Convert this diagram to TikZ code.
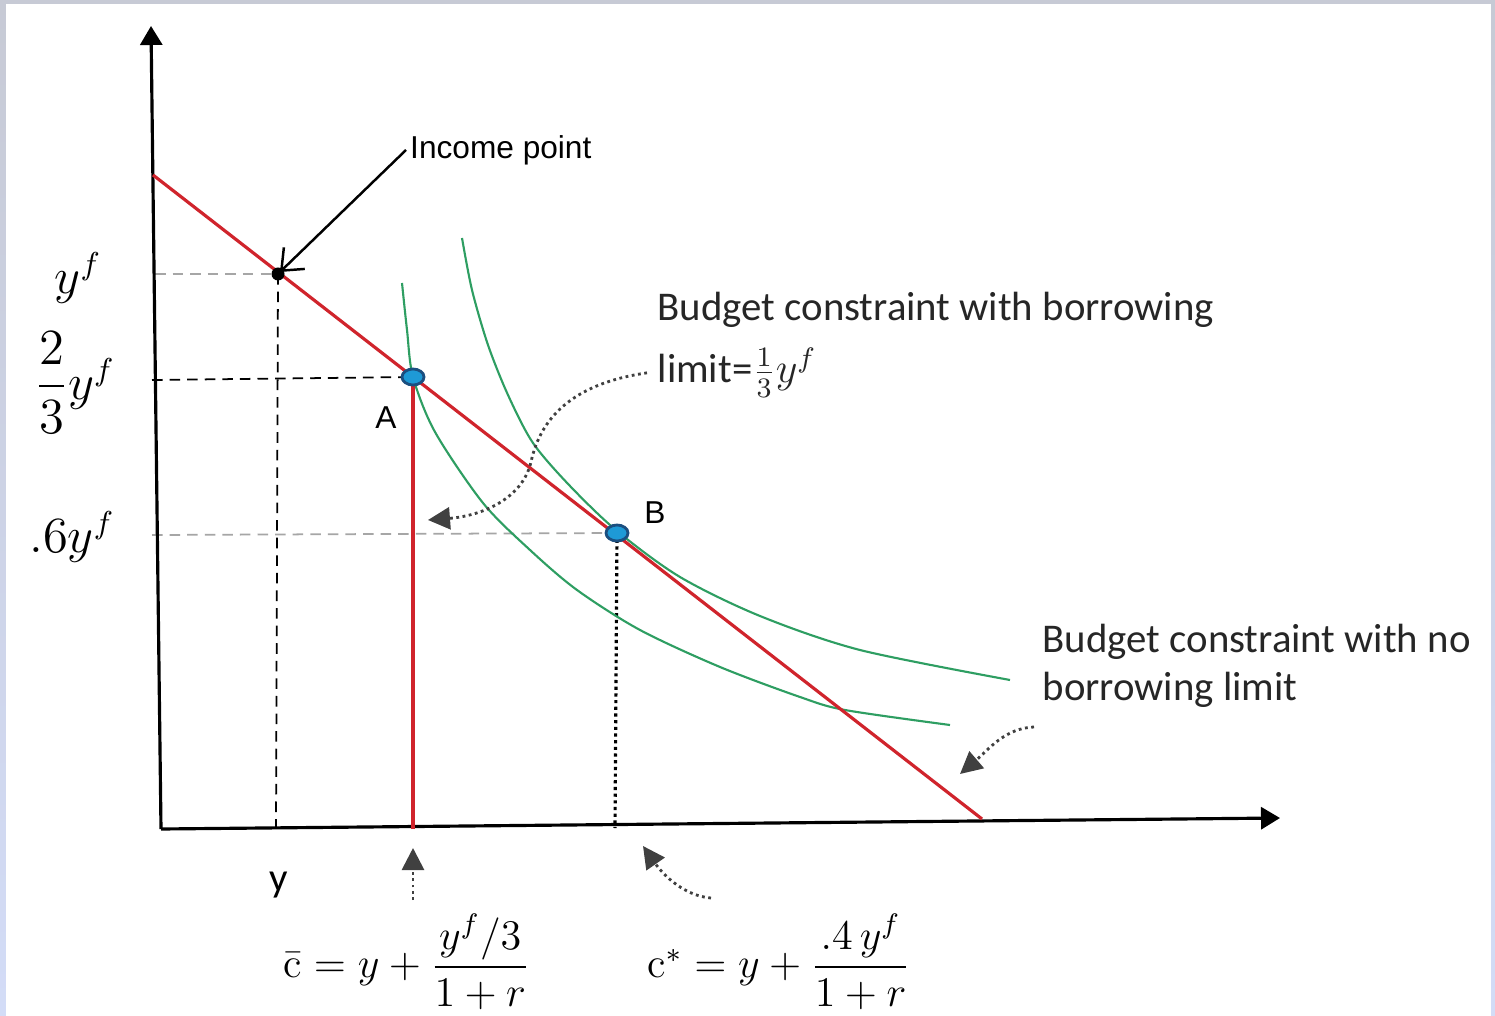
\documentclass[tikz,border=0pt]{standalone}
\usepackage{amsmath}
\usepackage{fontspec}
\usetikzlibrary{arrows.meta,positioning}
\newfontfamily\arialfont{Liberation Sans}
\newfontfamily\calfont{Carlito}
\definecolor{budred}{HTML}{D0242C}
\definecolor{icgreen}{HTML}{2E9E62}
\definecolor{dotblue}{HTML}{1E9AD6}
\definecolor{dotrim}{HTML}{1B4F80}
\definecolor{frametop}{HTML}{C7CAD5}
\definecolor{framebot}{HTML}{D3DCF7}

\begin{document}
\begin{tikzpicture}[x=0.01cm,y=-0.01cm,>=Latex,
 axis/.style={line width=0.9pt,-{Triangle[length=1.9mm,width=2.2mm]}},
 budget/.style={draw=budred,line width=0.9pt},
 indiff/.style={draw=icgreen,line width=0.6pt},
 guide/.style={line width=0.5pt,densely dashed},
 faint/.style={guide,gray!70},
 pointer/.style={densely dotted,line width=0.8pt,black!75,
   -{Triangle[length=2.2mm,width=2.2mm]}},
 eqpt/.style={fill=dotblue,draw=dotrim,line width=0.8pt},
 tag/.style={font=\arialfont\fontsize{9}{11}\selectfont},
 note/.style={font=\calfont\fontsize{11.6}{14}\selectfont,anchor=base west,inner sep=0pt,text=black!85},
 ylab/.style={font=\fontsize{13.5}{15}\selectfont},
 eqn/.style={font=\fontsize{12}{14}\selectfont}]
\useasboundingbox (0,0) rectangle (1495,1016);
\fill[top color=frametop,bottom color=framebot] (0,0) rectangle (1495,1016);
\fill[white] (6,4) rectangle (1491,1016);

\coordinate (O) at (161,829);
\coordinate (ytop) at (151,26);
\coordinate (xend) at (1280,818);
\coordinate (ycut) at (153,175);
\coordinate (xcut) at (982,819);
\coordinate (inc) at (278,274);
\coordinate (A) at (413,377);
\coordinate (B) at (617,533);

% guides
\draw[faint] (155,274) -- (inc);
\draw[guide] (inc) -- (276,828);
\draw[guide] (152,380) -- (A);
\draw[faint] (152,535) -- (B);
\draw[line width=0.9pt,densely dotted] (B) -- (615,828);

% indifference curves
\draw[indiff] plot[smooth] coordinates {(402,283) (407,330) (413,377) (435,432)
  (483,503) (530,550) (577,590) (640,630) (720,667) (800,697) (845,710) (950,725)};
\draw[indiff] plot[smooth] coordinates {(462,238) (472,290) (488,345) (508,395)
  (533,443) (570,486) (617,531) (680,577) (760,616) (860,650) (1010,680)};

\draw[axis] (O) -- (ytop);
\draw[axis] (O) -- (xend);
\draw[budget] (ycut) -- (xcut);
\draw[budred,line width=1.2pt] (A) -- (413,829);

\fill (inc) circle (0.65mm);
\filldraw[eqpt] (A) ellipse [x radius=1.1mm,y radius=0.8mm];
\filldraw[eqpt] (B) ellipse [x radius=1.1mm,y radius=0.8mm];

\node[tag] (labA) at (386,418) {A};
\node[tag] (labB) at (655,513) {B};
\node[anchor=west,inner sep=1pt,font=\arialfont\fontsize{9}{11}\selectfont] (incl) at (406,150) {Income point};
\draw[line width=0.7pt,-{Straight Barb[length=1.8mm,width=3mm]}] (incl.west) -- ([shift={(2,-2)}]inc);

\node[ylab] (lyf) at (78,278) {$y^f$};
\node[ylab] (ltwo) at (75,383) {$\dfrac{2}{3}y^f$};
\node[ylab] (lsix) at (72,537) {$.6y^f$};

\node[note] (bc1) at (657,321) {Budget constraint with borrowing};
\node[note] (bc2) at (657,383) {limit=$\frac{1}{3}y^f$};
\node[note] (bn1) at (1042,652) {Budget constraint with no};
\node[note] (bn2) at (1042,700) {borrowing limit};

\node[font=\calfont\fontsize{11.6}{14}\selectfont] (ly) at (279,885) {y};
\node[eqn] (cbar) at (407,962) {$\bar{\mathrm{c}} = y + \dfrac{y^f/3}{1+r}$};
\node[eqn] (cstar) at (779,962) {$\mathrm{c}^* = y + \dfrac{.4\,y^f}{1+r}$};

% pointers
\coordinate (p1) at (428,520);
\draw[pointer] ([xshift=-1mm]bc2.west) .. controls (570,384) and (540,420) .. (531,462)
  .. controls (522,500) and (480,516) .. (p1);
\coordinate (q0) at (1034,727);
\coordinate (q1) at (960,774);
\draw[pointer] (q0) .. controls (1005,728) and (988,750) .. (q1);
\coordinate (r0) at (413,900);
\coordinate (r1) at (413,848);
\draw[pointer] (r0) -- (r1);
\coordinate (s0) at (711,898);
\coordinate (s1) at (643,846);
\draw[pointer] (s0) .. controls (685,896) and (664,876) .. (s1);
\end{tikzpicture}
\end{document}
